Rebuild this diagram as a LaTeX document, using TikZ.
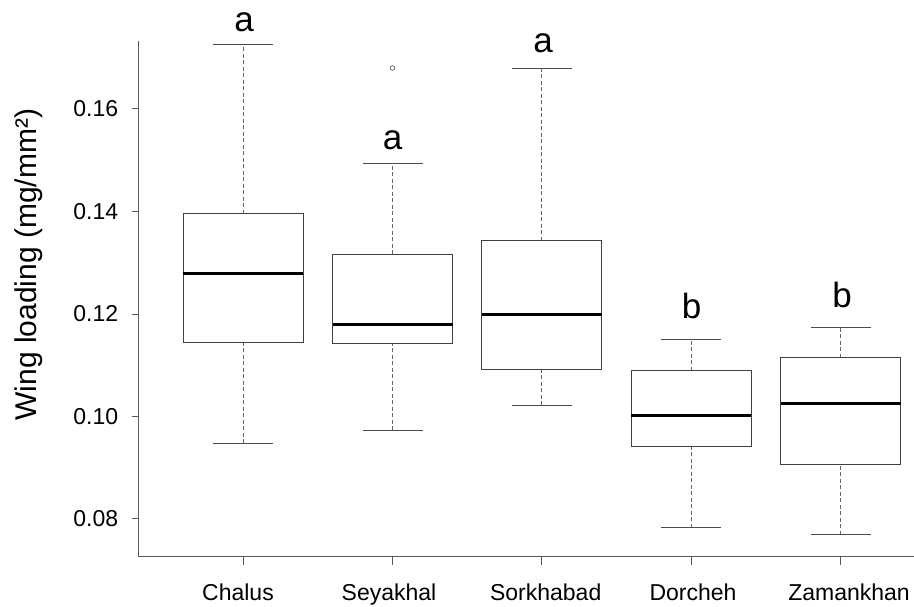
\documentclass[tikz,border=0pt]{standalone}
\usepackage{fontspec}
\setmainfont{Liberation Sans}
\usetikzlibrary{positioning}

\begin{document}
\begin{tikzpicture}[x=1pt, y=-1pt,
  axisline/.style={draw=black!65, line width=1pt},
  boxline/.style={draw=black!75, line width=1pt},
  medline/.style={draw=black, line width=3pt},
  whisk/.style={draw=black!60, line width=0.9pt, dash pattern=on 4pt off 2.5pt},
  capline/.style={draw=black!70, line width=1pt},
  ticklab/.style={font=\fontsize{23}{23}\selectfont, inner sep=0pt},
  grouplab/.style={font=\fontsize{35}{35}\selectfont, inner sep=0pt, anchor=base}]
  \useasboundingbox (0,0) rectangle (914,606);
  \coordinate (ytop) at (138.3,40.7);
  \coordinate (origin) at (138.3,556);
  \coordinate (xend) at (914,556);
  \draw[axisline] (ytop) -- (origin) -- (xend);
  \node[rotate=90, font=\fontsize{30}{30}\selectfont] (ylab) at (28.5,264.5) {Wing loading (mg/mm²)};
  \begin{scope}[y=5125pt, yshift=-929pt]
    % y axis ticks
    \draw[axisline] (131.7,0.08) -- (138.3,0.08);
    \draw[axisline] (131.7,0.10) -- (138.3,0.10);
    \draw[axisline] (131.7,0.12) -- (138.3,0.12);
    \draw[axisline] (131.7,0.14) -- (138.3,0.14);
    \draw[axisline] (131.7,0.16) -- (138.3,0.16);
    \node[ticklab, anchor=east] (t08) at (118.3,0.08) {0.08};
    \node[ticklab, anchor=east] (t10) at (118.3,0.10) {0.10};
    \node[ticklab, anchor=east] (t12) at (118.3,0.12) {0.12};
    \node[ticklab, anchor=east] (t14) at (118.3,0.14) {0.14};
    \node[ticklab, anchor=east] (t16) at (118.3,0.16) {0.16};
    % Chalus
    \draw[whisk] (243.3,0.0948) -- (243.3,0.1144) (243.3,0.1396) -- (243.3,0.1726);
    \draw[capline] (213.3,0.0948) -- (273.3,0.0948) (213.3,0.1726) -- (273.3,0.1726);
    \draw[boxline] (183.3,0.1144) rectangle (303.3,0.1396);
    \draw[medline] (183.3,0.1278) -- (303.3,0.1278);
    % Seyakhal
    \draw[whisk] (392.7,0.0973) -- (392.7,0.1143) (392.7,0.1317) -- (392.7,0.1493);
    \draw[capline] (362.7,0.0973) -- (422.7,0.0973) (362.7,0.1493) -- (422.7,0.1493);
    \draw[boxline] (332.7,0.1143) rectangle (452.7,0.1317);
    \draw[medline] (332.7,0.1180) -- (452.7,0.1180);
    \draw[draw=black!60, line width=0.8pt] (392.5,0.168) circle (2.3pt);
    % Sorkhabad
    \draw[whisk] (541.8,0.1022) -- (541.8,0.1092) (541.8,0.1343) -- (541.8,0.1679);
    \draw[capline] (511.8,0.1022) -- (571.8,0.1022) (511.8,0.1679) -- (571.8,0.1679);
    \draw[boxline] (481.8,0.1092) rectangle (601.8,0.1343);
    \draw[medline] (481.8,0.1199) -- (601.8,0.1199);
    % Dorcheh
    \draw[whisk] (691.2,0.0783) -- (691.2,0.0942) (691.2,0.1089) -- (691.2,0.1151);
    \draw[capline] (661.2,0.0783) -- (721.2,0.0783) (661.2,0.1151) -- (721.2,0.1151);
    \draw[boxline] (631.2,0.0942) rectangle (751.2,0.1089);
    \draw[medline] (631.2,0.1002) -- (751.2,0.1002);
    % Zamankhan
    \draw[whisk] (840.8,0.0769) -- (840.8,0.0907) (840.8,0.1115) -- (840.8,0.1174);
    \draw[capline] (810.8,0.0769) -- (870.8,0.0769) (810.8,0.1174) -- (870.8,0.1174);
    \draw[boxline] (780.8,0.0907) rectangle (900.8,0.1115);
    \draw[medline] (780.8,0.1026) -- (900.8,0.1026);
  \end{scope}
  % x axis ticks and sites
  \draw[axisline] (243.3,556) -- (243.3,565);
  \draw[axisline] (392.7,556) -- (392.7,565);
  \draw[axisline] (541.8,556) -- (541.8,565);
  \draw[axisline] (691.2,556) -- (691.2,565);
  \draw[axisline] (840.8,556) -- (840.8,565);
  \node[ticklab, anchor=base] (chalus) at (238,600.5) {Chalus};
  \node[ticklab, anchor=base] (seyakhal) at (389,600.5) {Seyakhal};
  \node[ticklab, anchor=base] (sorkhabad) at (545.7,600.5) {Sorkhabad};
  \node[ticklab, anchor=base] (dorcheh) at (693,600.5) {Dorcheh};
  \node[ticklab, anchor=base] (zamankhan) at (849,600.5) {Zamankhan};
  % letters
  \node[grouplab] (lchalus) at (244,31) {a};
  \node[grouplab] (lseyakhal) at (392.5,149) {a};
  \node[grouplab] (lsorkhabad) at (543,52) {a};
  \node[grouplab] (ldorcheh) at (691.5,318.5) {b};
  \node[grouplab] (lzamankhan) at (842,307) {b};
\end{tikzpicture}
\end{document}
